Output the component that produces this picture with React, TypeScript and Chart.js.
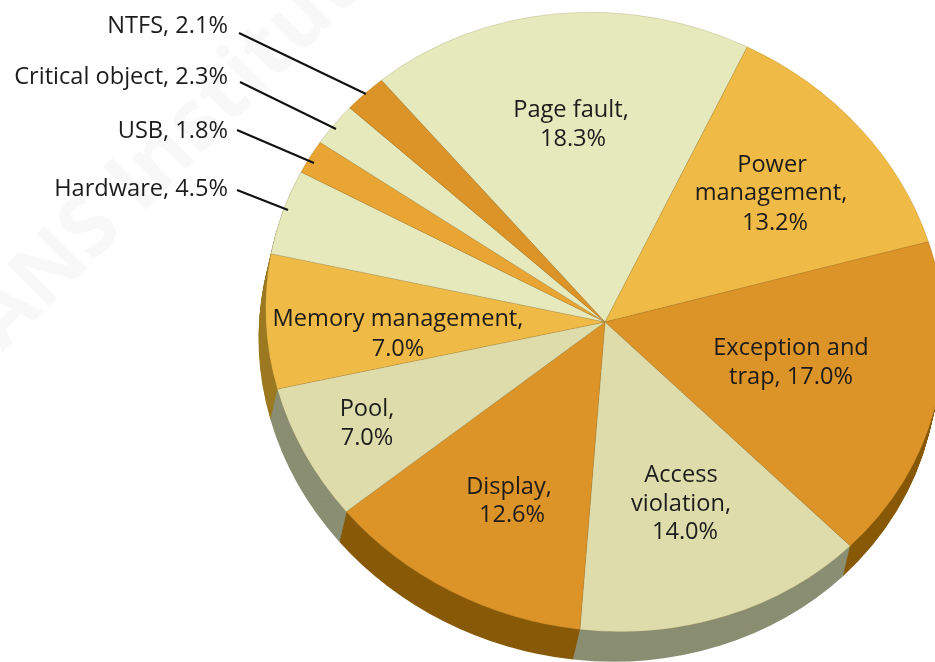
import React, { useEffect, useRef } from "react";
import { Chart, registerables } from "chart.js";

Chart.register(...registerables);

const categories = [
  "Page fault",
  "Power management",
  "Exception and trap",
  "Access violation",
  "Display",
  "Pool",
  "Memory management",
  "Hardware",
  "USB",
  "Critical object",
  "NTFS",
];
const values = [18.3, 13.2, 17.0, 14.0, 12.6, 7.0, 7.0, 4.5, 1.8, 2.3, 2.1];
const topColors = [
  "#e6e9bc", "#f0ba46", "#dc9327", "#dfdcac", "#dc9327", "#dfdcac",
  "#f0ba46", "#e6e9bc", "#e8a533", "#e6e9bc", "#dc9327",
];
const sideColors = [
  "#8a8e72", "#9c7a20", "#885a08", "#8a8e72", "#885a08", "#8a8e72",
  "#9c7a20", "#8a8e72", "#885a08", "#8a8e72", "#885a08",
];
const watermarkText = "SANS Institute";

// Inner labels: text lines and where each one is centred
const innerLabels = [
  { lines: ["Page fault,", "18.3%"], x: [571, 573], y: [110, 139] },
  { lines: ["Power", "management,", "13.2%"], x: [772, 771, 775], y: [165, 193, 223] },
  { lines: ["Exception and", "trap, 17.0%"], x: [791, 791], y: [348, 377] },
  { lines: ["Access", "violation,", "14.0%"], x: [681, 681, 685], y: [475, 504, 532] },
  { lines: ["Display,", "12.6%"], x: [509, 512], y: [487, 515] },
  { lines: ["Pool,", "7.0%"], x: [367, 367], y: [409, 438] },
  { lines: ["Memory management,", "7.0%"], x: [398, 398], y: [319, 349] },
];
// Outer labels with leader lines
const outerLabels = [
  { text: "NTFS, 2.1%", y: 26, line: [239, 33, 366, 94] },
  { text: "Critical object, 2.3%", y: 77, line: [240, 82, 336, 129] },
  { text: "USB, 1.8%", y: 131, line: [237, 130, 314, 163] },
  { text: "Hardware, 4.5%", y: 189, line: [237, 190, 288, 210] },
];

const FONT = '23.6px "Open Sans", "Noto Sans", sans-serif';
const X_SCALE = 341 / 308;
const TILT = (13 * Math.PI) / 180;
const DEPTH_X = -7;
const DEPTH_Y = 30;

const piePlugin = {
  id: "tiltedPie",
  beforeDatasetsDraw(chart: any) {
    const ctx = chart.ctx;
    // faint watermark
    ctx.save();
    ctx.translate(-30, 385);
    ctx.rotate((-45 * Math.PI) / 180);
    ctx.font = 'bold 84px "Open Sans", sans-serif';
    ctx.fillStyle = "#f8f8f8";
    ctx.textBaseline = "alphabetic";
    ctx.fillText(watermarkText, 0, 0);
    ctx.restore();

    // extruded side
    const arcs = chart.getDatasetMeta(0).data;
    for (let t = DEPTH_Y; t >= 1; t--) {
      const dx = (DEPTH_X * t) / DEPTH_Y;
      arcs.forEach((a: any, i: number) => {
        ctx.beginPath();
        ctx.moveTo(a.x + dx, a.y + t);
        ctx.ellipse(a.x + dx, a.y + t, a.outerRadius * X_SCALE, a.outerRadius, TILT, a.startAngle, a.endAngle);
        ctx.closePath();
        ctx.fillStyle = sideColors[i];
        ctx.fill();
      });
    }

    // the top face is a tilted ellipse
    const { x, y } = arcs[0];
    ctx.save();
    ctx.translate(x, y);
    ctx.rotate(TILT);
    ctx.scale(X_SCALE, 1);
    ctx.translate(-x, -y);
  },
  afterDatasetsDraw(chart: any) {
    chart.ctx.restore();
  },
  afterDraw(chart: any) {
    const ctx = chart.ctx;
    ctx.save();
    ctx.font = FONT;
    ctx.fillStyle = "#1c1c1c";
    ctx.textBaseline = "middle";
    ctx.textAlign = "center";
    innerLabels.forEach((l) => {
      l.lines.forEach((s, i) => ctx.fillText(s, l.x[i], l.y[i]));
    });
    ctx.textAlign = "right";
    outerLabels.forEach((l) => {
      ctx.fillText(l.text, 228, l.y);
      ctx.beginPath();
      ctx.moveTo(l.line[0], l.line[1]);
      ctx.lineTo(l.line[2], l.line[3]);
      ctx.strokeStyle = "#111111";
      ctx.lineWidth = 2;
      ctx.stroke();
    });
    ctx.restore();
  },
};

export default function App() {
  const ref = useRef<HTMLCanvasElement>(null);
  useEffect(() => {
    const chart = new Chart(ref.current as HTMLCanvasElement, {
      type: "pie",
      data: {
        labels: categories,
        datasets: [
          {
            data: values,
            backgroundColor: topColors,
            borderColor: "rgba(130,110,50,0.3)",
            borderWidth: 0.6,
            clip: false,
          } as any,
        ],
      },
      options: {
        animation: false,
        responsive: false,
        rotation: -53,
        radius: 308,
        layout: { padding: { left: 275, right: 0, top: 0, bottom: 18 } },
        plugins: { legend: { display: false }, tooltip: { enabled: false } },
      },
      plugins: [piePlugin],
    });
    return () => chart.destroy();
  }, []);
  return (
    <canvas
      ref={ref}
      width={935}
      height={662}
      style={{ position: "absolute", left: 0, top: 0, width: 935, height: 662, filter: "blur(0.6px)" }}
    />
  );
}
